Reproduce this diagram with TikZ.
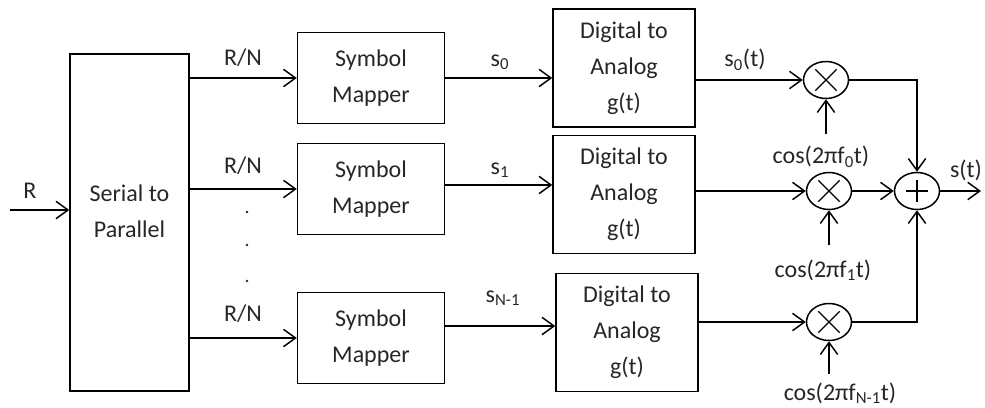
\documentclass[tikz,border=0pt]{standalone}
\usepackage{fontspec}
\setmainfont{Carlito}
\usetikzlibrary{arrows.meta,shapes.geometric}

\begin{document}
\begin{tikzpicture}[x=0.75pt,y=-0.75pt,line width=1.1pt,
  every node/.style={font=\fontsize{18}{27}\selectfont,text=black!85},
  blk/.style={draw=black,rectangle,align=center,inner sep=0pt},
  mapper/.style={blk,minimum width=110.25pt,minimum height=68.5pt},
  dac/.style={blk,minimum width=106.5pt,minimum height=88.5pt},
  lbl/.style={inner sep=0pt},
  arr/.style={-{Straight Barb[length=9pt,width=13pt]}},
  junction/.style={draw=black,ellipse,minimum width=33.75pt,minimum height=27.75pt,inner sep=0pt},
  mixer/.style={junction,path picture={
      \draw[line width=1pt] ([shift={(-8pt,-8pt)}]path picture bounding box.center) -- ++(16pt,16pt);
      \draw[line width=1pt] ([shift={(-8pt,8pt)}]path picture bounding box.center) -- ++(16pt,-16pt);}},
  adder/.style={junction,path picture={
      \draw[line width=1pt] ([shift={(-8pt,0pt)}]path picture bounding box.center) -- ++(16pt,0pt);
      \draw[line width=1pt] ([shift={(0pt,-8pt)}]path picture bounding box.center) -- ++(0pt,16pt);}}
]
\useasboundingbox (0,0) rectangle (985,407);

% serial to parallel converter
\node[blk,minimum width=89.25pt,minimum height=252.75pt] (s2p) at (129.5,222.5) {};
\node[align=center,inner sep=0pt] (s2ptext) at (129.5,211) {Serial to\\Parallel};
\coordinate (in) at (10,210);
\draw[arr] (in) -- (s2p.west |- in);
\node[lbl] (rin) at (30,191) {R};

% symbol mappers
\node[mapper] (m1) at (371,78) {Symbol\\Mapper};
\node[mapper] (m2) at (371,189) {Symbol\\Mapper};
\node[mapper] (m3) at (371,338) {Symbol\\Mapper};
\draw[arr] (s2p.east |- m1) -- (m1.west);
\draw[arr] (s2p.east |- m2) -- (m2.west);
\draw[arr] (s2p.east |- m3) -- (m3.west);
\node[lbl] (rn1) at (243,58) {R/N};
\node[lbl] (rn2) at (243,166) {R/N};
\node[lbl] (rn3) at (243,314) {R/N};
\fill[black!85] (247,212) circle[radius=1.1pt] (247,245) circle[radius=1.1pt] (247,281) circle[radius=1.1pt];

% digital to analog converters
\node[dac] (d1) at (624,68) {Digital to\\Analog\\g(t)};
\node[dac] (d2) at (624,194.5) {Digital to\\Analog\\g(t)};
\node[dac] (d3) at (627,332.5) {Digital to\\Analog\\g(t)};
\draw[arr] (m1.east) -- (m1.east -| d1.west);
\draw[arr] ([yshift=3pt]m2.east) -- ([yshift=3pt]m2.east -| d2.west);
\draw[arr] ([yshift=9pt]m3.east) -- ([yshift=9pt]m3.east -| d3.west);
\node[lbl] (ls0) at (500,62) {s\textsubscript{0}};
\node[lbl] (ls1) at (500,170) {s\textsubscript{1}};
\node[lbl] (ls2) at (503,298) {s\textsubscript{N-1}};

% mixers and summer
\node[mixer] (x1) at (826,80) {};
\node[mixer] (x2) at (829,191) {};
\node[mixer] (x3) at (829,322) {};
\node[adder] (add) at (917,191) {};
\draw[arr] (d1.east |- x1) -- (x1.west);
\draw[arr] (d2.east |- x2) -- (x2.west);
\draw[arr] (d3.east |- x3) -- (x3.west);
\node[lbl] (ls0t) at (745,60) {s\textsubscript{0}(t)};

\coordinate (lo1) at (826,134);
\coordinate (lo2) at (829,245);
\coordinate (lo3) at (829,374);
\draw[arr] (lo1) -- (x1.south);
\draw[arr] (lo2) -- (x2.south);
\draw[arr] (lo3) -- (x3.south);
\node[lbl] (c0) at (821,157) {cos(2πf\textsubscript{0}t)};
\node[lbl] (c1) at (823,270) {cos(2πf\textsubscript{1}t)};
\node[lbl] (c2) at (840,393) {cos(2πf\textsubscript{N-1}t)};

\draw[arr] (x1.east) -| (add.north);
\draw[arr] (x2.east) -- (add.west);
\draw[arr] (x3.east) -| (add.south);
\coordinate (out) at (981,191);
\draw[arr] (add.east) -- (out);
\node[lbl] (lst) at (966,170) {s(t)};
\end{tikzpicture}
\end{document}
